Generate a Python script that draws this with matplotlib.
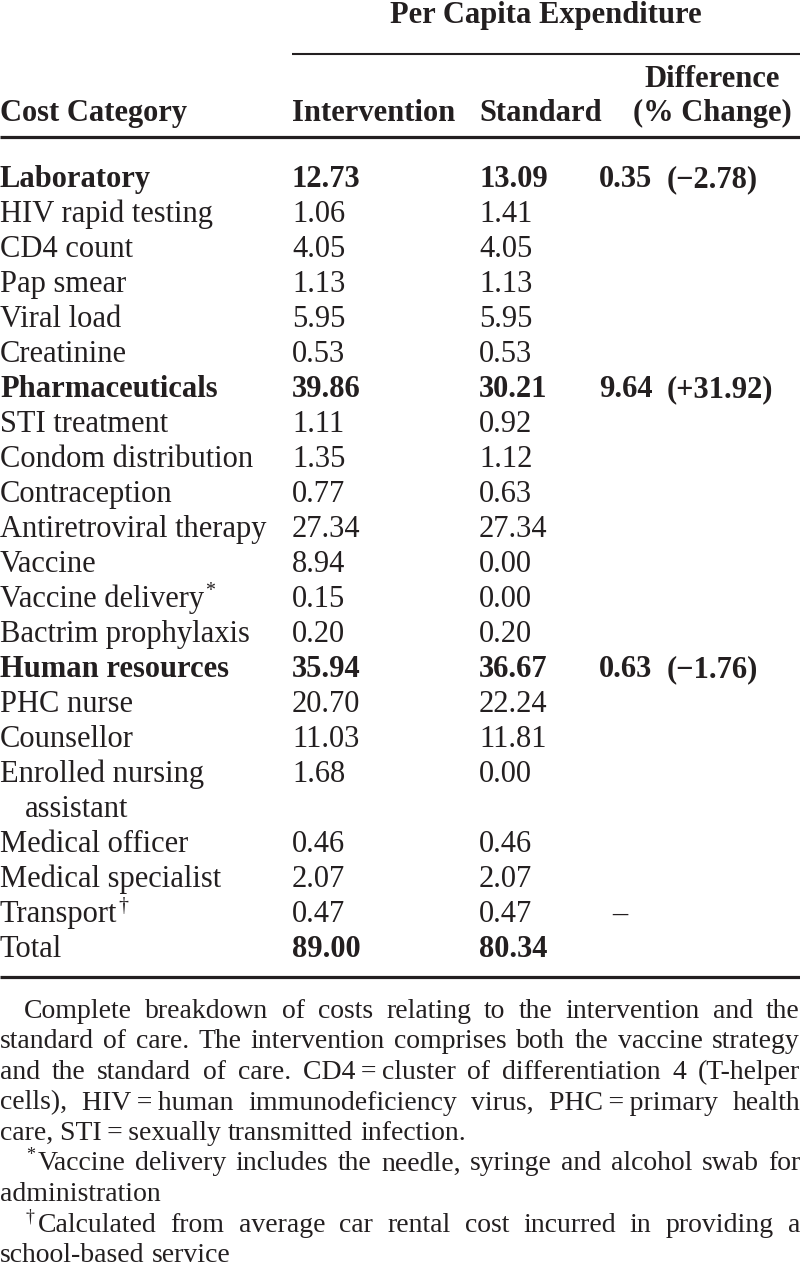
import matplotlib
matplotlib.use("Agg")
import matplotlib.pyplot as plt

# ---------------- data ----------------
categories = ["Laboratory", "HIV rapid testing", "CD4 count", "Pap smear", "Viral load",
              "Creatinine", "Pharmaceuticals", "STI treatment", "Condom distribution",
              "Contraception", "Antiretroviral therapy", "Vaccine", "Vaccine delivery",
              "Bactrim prophylaxis", "Human resources", "PHC nurse", "Counsellor",
              "Enrolled nursing\nassistant", "Medical officer", "Medical specialist",
              "Transport", "Total"]
intervention = [12.73, 1.06, 4.05, 1.13, 5.95, 0.53, 39.86, 1.11, 1.35, 0.77, 27.34,
                8.94, 0.15, 0.20, 35.94, 20.70, 11.03, 1.68, 0.46, 2.07, 0.47, 89.00]
standard = [13.09, 1.41, 4.05, 1.13, 5.95, 0.53, 30.21, 0.92, 1.12, 0.63, 27.34,
            0.00, 0.00, 0.20, 36.67, 22.24, 11.81, 0.00, 0.46, 2.07, 0.47, 80.34]
diff_value = ["0.35", "", "", "", "", "", "9.64", "", "", "", "",
              "", "", "", "0.63", "", "", "", "", "", "\u2013", ""]
diff_pct = ["(\u22122.78)", "", "", "", "", "", "(+31.92)", "", "", "", "",
            "", "", "", "(\u22121.76)", "", "", "", "", "", "", ""]
footnote_marks = {"Vaccine delivery": "*", "Transport": "\u2020"}
group_rows = ["Laboratory", "Pharmaceuticals", "Human resources"]
total_row = "Total"

header_top = "Per Capita Expenditure"
col_headers = ["Cost Category", "Intervention", "Standard"]
diff_header = ["Difference", "(% Change)"]

# (mark, text lines) -- each paragraph keeps the original line breaks
note_paragraphs = [
    ("", ["Complete breakdown of costs relating to the intervention and the",
          "standard of care. The intervention comprises both the vaccine strategy",
          "and the standard of care. CD4\u2009=\u2009cluster of differentiation 4 (T-helper",
          "cells), HIV\u2009=\u2009human immunodeficiency virus, PHC\u2009=\u2009primary health",
          "care, STI\u2009=\u2009sexually transmitted infection."]),
    ("*", ["Vaccine delivery includes the needle, syringe and alcohol swab for",
           "administration"]),
    ("\u2020", ["Calculated from average car rental cost incurred in providing a",
                "school-based service"]),
]

# ---------------- layout ----------------
W, H = 800, 1268
fig = plt.figure(figsize=(W / 100, H / 100), dpi=100)
ax = fig.add_axes([0, 0, 1, 1])
ax.set_xlim(0, W)
ax.set_ylim(H, 0)
ax.axis("off")
R = fig.canvas.get_renderer()

FAM = ["Liberation Serif", "DejaVu Serif"]
FS = 22
COL = "#231f20"
X_CAT, X_INT, X_STD, X_DIF, X_PCT = 0, 292, 479, 599, 667


def txt(x, y, s, bold=False, ha="left", size=FS):
    return ax.text(x, y, s, ha=ha, va="baseline", fontsize=size,
                   fontweight="bold" if bold else "normal", family=FAM, color=COL)


def width(t):
    return t.get_window_extent(R).width


# header
txt(546, 23, header_top, bold=True, ha="center")
ax.plot([X_INT, W], [54, 54], color=COL, lw=1.5, solid_capstyle="butt")
txt(712, 87, diff_header[0], bold=True, ha="center")
txt(712, 121, diff_header[1], bold=True, ha="center")
txt(X_CAT, 121, col_headers[0], bold=True)
txt(X_INT, 121, col_headers[1], bold=True)
txt(X_STD, 121, col_headers[2], bold=True)
ax.plot([0, W], [137, 137], color=COL, lw=2.3, solid_capstyle="butt")

# body rows
y0, dy = 187, 35
line = 0
for cat, vi, vs, dv, dp in zip(categories, intervention, standard, diff_value, diff_pct):
    y = y0 + dy * line
    is_group = cat in group_rows
    is_total = cat == total_row
    parts = cat.split("\n")
    t = txt(X_CAT, y, parts[0], bold=is_group)
    if cat in footnote_marks:
        fig.canvas.draw()
        txt(X_CAT + width(t) + 1, y - 11, footnote_marks[cat], size=FS * 0.65)
    for k, p in enumerate(parts[1:], 1):
        txt(X_CAT + 25, y + dy * k, p)
    txt(X_INT, y, f"{vi:.2f}", bold=is_group or is_total)
    txt(X_STD, y, f"{vs:.2f}", bold=is_group or is_total)
    if dv:
        txt(X_DIF + (13 if dv == "\u2013" else 0), y, dv, bold=is_group)
    if dp:
        txt(X_PCT, y, dp, bold=is_group)
    line += len(parts)

ax.plot([0, W], [977, 977], color=COL, lw=2.3, solid_capstyle="butt")

# ---------------- justified notes ----------------
NFS = 20
INDENT = 24
fy0, fdy = 1018, 30.5


def word_widths(words):
    ts = [txt(0, -100, w, size=NFS) for w in words]
    fig.canvas.draw()
    ws = [width(t) for t in ts]
    for t in ts:
        t.remove()
    return ws


sp = word_widths(["a a"])[0] - word_widths(["aa"])[0]
fline = 0
for mark, lines in note_paragraphs:
    x_first = INDENT
    if mark:
        m = txt(INDENT + 2, fy0 + fdy * fline - 10, mark, size=NFS * 0.65)
        fig.canvas.draw()
        x_first = INDENT + 2 + width(m) + 3
    for li, ln in enumerate(lines):
        words = ln.split(" ")
        ws = word_widths(words)
        y = fy0 + fdy * fline
        xs = x_first if li == 0 else 0
        last = li == len(lines) - 1
        gap = sp if (last or len(words) == 1) else (W - xs - sum(ws)) / (len(words) - 1)
        x = xs
        for w, wd in zip(words, ws):
            txt(x, y, w, size=NFS)
            x += wd + gap
        fline += 1

fig.savefig("out.png", dpi=100, facecolor="white")
